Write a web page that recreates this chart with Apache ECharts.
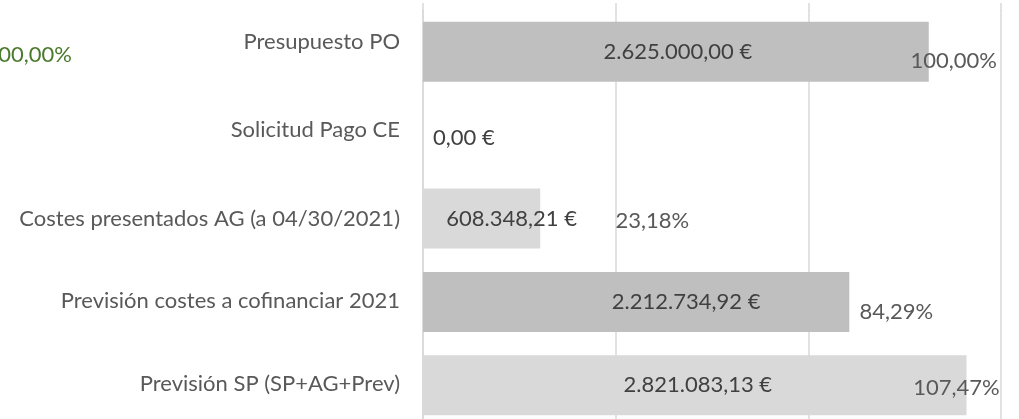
<!DOCTYPE html>
<html>
<head>
<meta charset="utf-8">
<script src="https://cdn.jsdelivr.net/npm/echarts@6/dist/echarts.min.js"></script>
<style>
  html, body { margin: 0; padding: 0; background: #fff; overflow: hidden; }
  #chart { width: 1019px; height: 428px; }
</style>
</head>
<body>
<div id="chart"></div>
<script>
// datos
var categorias = ['Presupuesto PO', 'Solicitud Pago CE', 'Costes presentados AG (a 04/30/2021)', 'Previsión costes a cofinanciar 2021', 'Previsión SP (SP+AG+Prev)'];
var importes = [2625000.00, 0.00, 608348.21, 2212734.92, 2821083.13];
var porcentajes = [100.00, null, 23.18, 84.29, 107.47];
var etiquetaSuelta = '100,00%';

var FONT = 'Lato, "Open Sans", sans-serif';
var TEXTO = '#595959';
var coloresBarra = ['#bfbfbf', '#bfbfbf', '#d9d9d9', '#bfbfbf', '#d9d9d9'];
// desplazamientos de las etiquetas (movidas a mano en el original)
var desplImporte = [[2, 0], [5, 3], [30, 0], [50, 0], [3, 0]];
var desplPorc = [[25, 9], [0, 0], [112, 2], [47, 10], [-10, 3]];
var subirCategoria = [10, 5, 0, 1, 1];

function fmtNum(v) {
  var partes = v.toFixed(2).split('.');
  var ent = partes[0].replace(/\B(?=(\d{3})+(?!\d))/g, '.');
  return ent + ',' + partes[1];
}

var estilosCat = {};
subirCategoria.forEach(function (s, i) {
  estilosCat['c' + i] = {
    color: TEXTO, fontFamily: FONT, fontSize: 22,
    padding: [0, 0, s * 2, 0]
  };
});

var lineaGuia = { lineStyle: { color: '#d9d9d9', width: 1.5 } };

var chart = echarts.init(document.getElementById('chart'));

var option = {
  animation: false,
  grid: [
    { left: 423, top: 10, width: 578, height: 417 },
    // franja superior: solo prolonga las lineas de guia hacia arriba
    { left: 423, top: 3, width: 578, height: 8 }
  ],
  xAxis: [
    {
      type: 'value',
      min: 0,
      max: 3000000,
      interval: 1000000,
      axisLabel: { show: false },
      axisLine: { show: false },
      axisTick: { show: false },
      splitLine: lineaGuia
    },
    {
      gridIndex: 1,
      type: 'value',
      min: 0,
      max: 3000000,
      interval: 1000000,
      axisLabel: { show: false },
      axisLine: { show: false },
      axisTick: { show: false },
      splitLine: lineaGuia
    }
  ],
  yAxis: [
    {
      type: 'category',
      inverse: true,
      data: categorias,
      axisTick: { show: false },
      axisLine: { lineStyle: { color: '#d9d9d9', width: 1.5 } },
      axisLabel: {
        margin: 23,
        color: TEXTO,
        fontFamily: FONT,
        fontSize: 22,
        formatter: function (v, i) { return '{c' + i + '|' + v + '}'; },
        rich: estilosCat
      }
    },
    {
      gridIndex: 1,
      type: 'value',
      show: false
    }
  ],
  series: [
    {
      type: 'bar',
      barWidth: 60,
      data: importes.map(function (v, i) {
        return {
          value: v,
          itemStyle: { color: coloresBarra[i] },
          label: {
            position: v === 0 ? 'right' : 'inside',
            offset: desplImporte[i]
          }
        };
      }),
      label: {
        show: true,
        color: '#404040',
        fontFamily: FONT,
        fontSize: 22,
        formatter: function (p) { return fmtNum(p.value) + ' €'; }
      }
    },
    {
      type: 'scatter',
      z: 5,
      symbolSize: 0,
      silent: true,
      itemStyle: { opacity: 1 },
      data: porcentajes.map(function (p, i) {
        if (p === null) return null;
        return {
          value: [importes[i], i],
          pct: p,
          label: { offset: desplPorc[i] }
        };
      }).filter(function (d) { return d !== null; }),
      label: {
        show: true,
        position: 'inside',
        color: TEXTO,
        fontFamily: FONT,
        fontSize: 22,
        formatter: function (p) { return fmtNum(p.data.pct) + '%'; }
      }
    }
  ],
  graphic: [
    {
      type: 'text',
      x: 72,
      y: 55,
      style: {
        text: etiquetaSuelta,
        align: 'right',
        verticalAlign: 'middle',
        fill: '#4a7a2c',
        font: '22px ' + FONT
      }
    }
  ]
};

chart.setOption(option);
</script>
</body>
</html>
